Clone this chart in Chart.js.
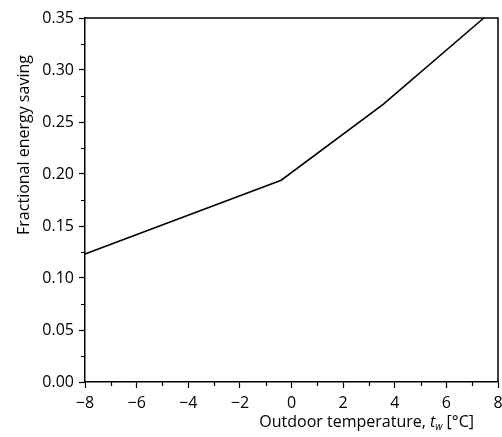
<!DOCTYPE html>
<html>
<head>
<meta charset="utf-8">
<script src="https://cdn.jsdelivr.net/npm/chart.js@4/dist/chart.umd.min.js"></script>
<style>
html,body{margin:0;padding:0;background:#fff;}
#wrap{width:502px;height:437px;position:relative;}
</style>
</head>
<body>
<div id="wrap"><canvas id="c" width="502" height="437"></canvas></div>
<script>
// Data
const temperatures = [-8, -0.4, 3.55, 7.45];
const savings = [0.123, 0.194, 0.267, 0.35];
const xMajorTicks = [-8, -6, -4, -2, 0, 2, 4, 6, 8];
const yMajorTicks = [0, 0.05, 0.10, 0.15, 0.20, 0.25, 0.30, 0.35];
const xMinorTicks = [-7, -5, -3, -1, 1, 3, 5, 7];
const yMinorTicks = [0.025, 0.075, 0.125, 0.175, 0.225, 0.275, 0.325];
const xTitle = 'Outdoor temperature, ';
const yTitle = 'Fractional energy saving';

const FONT = '"Open Sans", "Noto Sans", sans-serif';

const points = temperatures.map((t, i) => ({x: t, y: savings[i]}));

const decor = {
  id: 'decor',
  afterDraw(chart) {
    const ctx = chart.ctx;
    const a = chart.chartArea;
    const xs = chart.scales.x, ys = chart.scales.y;
    ctx.save();
    // top and right spines
    ctx.strokeStyle = '#000';
    ctx.lineWidth = 1.5;
    ctx.beginPath();
    ctx.moveTo(a.left, a.top);
    ctx.lineTo(a.right, a.top);
    ctx.lineTo(a.right, a.bottom);
    ctx.stroke();
    // minor ticks
    ctx.lineWidth = 1.2;
    ctx.beginPath();
    xMinorTicks.forEach(v => {
      const px = Math.round(xs.getPixelForValue(v)) + 0.5;
      ctx.moveTo(px, a.bottom);
      ctx.lineTo(px, a.bottom + 4);
    });
    yMinorTicks.forEach(v => {
      const py = Math.round(ys.getPixelForValue(v)) + 0.5;
      ctx.moveTo(a.left, py);
      ctx.lineTo(a.left - 4, py);
    });
    ctx.stroke();
    // x title
    ctx.fillStyle = '#000';
    ctx.textBaseline = 'alphabetic';
    ctx.font = '16px ' + FONT;
    const w1 = ctx.measureText(xTitle).width;
    ctx.font = 'italic 16px ' + FONT;
    const wt = ctx.measureText('t').width;
    ctx.font = 'italic 10px ' + FONT;
    const ww = ctx.measureText('w').width;
    ctx.font = '16px ' + FONT;
    const w3 = ctx.measureText(' [°C]').width;
    const total = w1 + wt + ww + w3;
    let x0 = 474 - total;
    const base = 427;
    ctx.textAlign = 'left';
    ctx.fillText(xTitle, x0, base);
    x0 += w1;
    ctx.font = 'italic 16px ' + FONT;
    ctx.fillText('t', x0, base);
    x0 += wt;
    ctx.font = 'italic 10px ' + FONT;
    ctx.fillText('w', x0, base + 3);
    x0 += ww;
    ctx.font = '16px ' + FONT;
    ctx.fillText(' [°C]', x0, base);
    // y title
    ctx.translate(29, 145);
    ctx.rotate(-Math.PI / 2);
    ctx.textAlign = 'center';
    ctx.font = '16px ' + FONT;
    ctx.fillText(yTitle, 0, 0);
    ctx.restore();
  }
};

new Chart(document.getElementById('c'), {
  type: 'scatter',
  data: {
    datasets: [{
      data: points,
      showLine: true,
      borderColor: '#000',
      borderWidth: 1.6,
      pointRadius: 0,
      fill: false,
      tension: 0,
      clip: false
    }]
  },
  options: {
    responsive: false,
    animation: false,
    layout: {padding: {top: 18, right: 4, left: 0, bottom: 0}},
    plugins: {legend: {display: false}, tooltip: {enabled: false}},
    scales: {
      x: {
        type: 'linear',
        min: -8, max: 8,
        afterFit(s) { s.height = 55; s.paddingLeft = 0; s.paddingRight = 0; },
        afterBuildTicks(s) { s.ticks = xMajorTicks.map(v => ({value: v})); },
        ticks: {
          color: '#000',
          font: {family: FONT, size: 16},
          padding: 6,
          maxRotation: 0,
          callback: v => (v < 0 ? '\u2212' + Math.abs(v) : String(v))
        },
        grid: {drawOnChartArea: false, drawTicks: true, tickLength: 6, tickColor: '#000', tickWidth: 1.2},
        border: {color: '#000', width: 1.5}
      },
      y: {
        type: 'linear',
        min: 0, max: 0.35,
        afterFit(s) { s.width = 85; s.paddingTop = 0; s.paddingBottom = 0; },
        afterBuildTicks(s) { s.ticks = yMajorTicks.map(v => ({value: v})); },
        ticks: {
          color: '#000',
          font: {family: FONT, size: 16},
          padding: 5,
          callback: v => Number(v).toFixed(2)
        },
        grid: {drawOnChartArea: false, drawTicks: true, tickLength: 6, tickColor: '#000', tickWidth: 1.2},
        border: {color: '#000', width: 1.5}
      }
    }
  },
  plugins: [decor]
});
</script>
</body>
</html>
